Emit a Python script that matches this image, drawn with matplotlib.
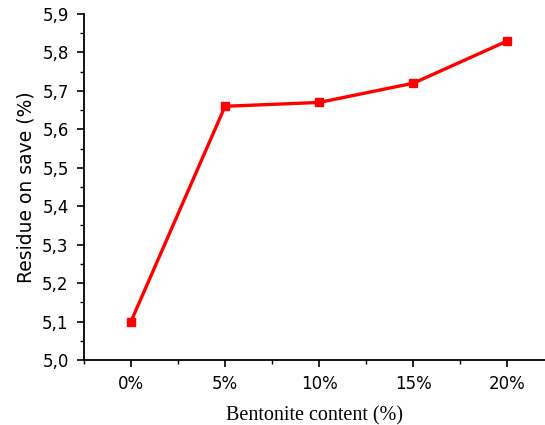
import matplotlib
matplotlib.use("Agg")
import matplotlib.pyplot as plt
from matplotlib.ticker import MultipleLocator, FuncFormatter

categories = ["0%", "5%", "10%", "15%", "20%"]
residue = [5.10, 5.66, 5.67, 5.72, 5.83]

fig = plt.figure(figsize=(5.45, 4.25), dpi=100)
ax = fig.add_axes([0.154, 0.153, 0.846, 0.814])

x = list(range(len(categories)))
ax.plot(x, residue, color="#ff0000", lw=2.4, marker="s", ms=5.5)

ax.set_xlim(-0.5, 4.4)
ax.set_ylim(5.0, 5.9)
ax.set_xticks(x)
ax.set_xticklabels(categories, fontsize=12, family="DejaVu Sans")
ax.xaxis.set_minor_locator(MultipleLocator(0.5))
ax.yaxis.set_major_locator(MultipleLocator(0.1))
ax.yaxis.set_minor_locator(MultipleLocator(0.05))
ax.yaxis.set_major_formatter(FuncFormatter(lambda v, p: ("%.1f" % v).replace(".", ",")))
for lab in ax.get_yticklabels():
    lab.set_family("DejaVu Sans")
    lab.set_fontsize(12)

ax.spines["top"].set_visible(False)
ax.spines["right"].set_visible(False)
ax.spines["left"].set_linewidth(1.3)
ax.spines["bottom"].set_linewidth(1.3)
ax.tick_params(which="major", length=5, width=1.2, direction="out", pad=6)
ax.tick_params(which="minor", length=3, width=1.0, direction="out")

ax.set_xlabel("Bentonite content (%)", fontsize=14.5, family="Liberation Serif", labelpad=9)
ax.set_ylabel("Residue on save (%)", fontsize=13.5, family="DejaVu Sans", labelpad=5)

fig.savefig("out.png", dpi=100)
